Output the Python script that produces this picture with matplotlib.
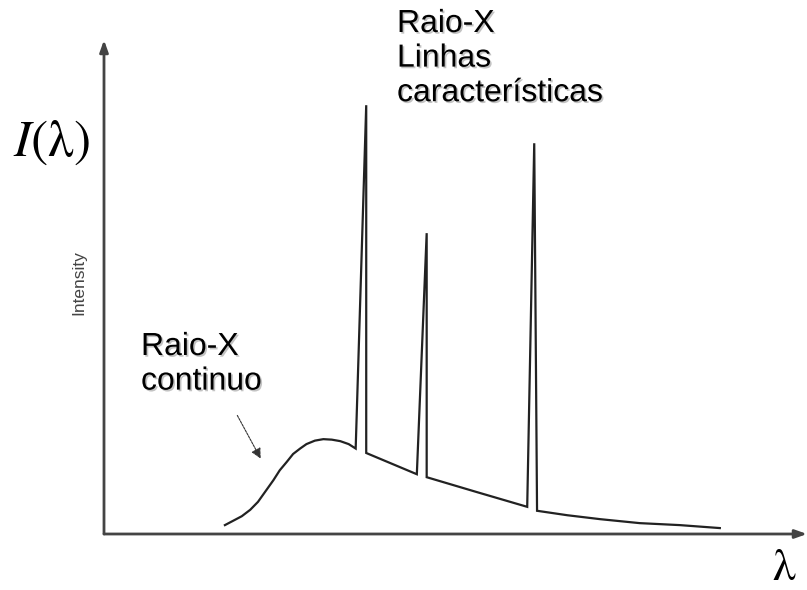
import matplotlib
matplotlib.use("Agg")
import matplotlib.pyplot as plt
import matplotlib.patheffects as pe

plt.rcParams['mathtext.fontset'] = 'stix'

# Spectrum trace (wavelength in arbitrary units, intensity in % of axis height)
wavelength = [17.2, 18.4, 19.6, 20.8, 21.9, 23.1, 24.1, 25.0, 26.0, 26.9, 27.9, 28.8, 30.0,
              31.2, 32.4, 33.6, 34.8, 35.8,
              37.3, 37.3, 44.5, 45.9, 45.9, 53.0, 60.2, 61.2, 61.6,
              65.9, 70.6, 76.2, 81.9, 87.6]
intensity = [1.8, 2.7, 3.6, 4.9, 6.5, 8.9, 10.9, 12.9, 14.6, 16.2, 17.3, 18.2, 18.9,
             19.2, 19.1, 18.8, 18.2, 17.3,
             86.8, 16.4, 12.1, 60.9, 11.5, 8.5, 5.5, 79.1, 4.7,
             3.8, 3.0, 2.2, 1.8, 1.2]

label_lines = "Raio-X\nLinhas\ncaracterísticas"
label_cont = "Raio-X\ncontinuo"
ylab = "Intensity"

W, H = 807, 590
fig = plt.figure(figsize=(W / 100, H / 100), dpi=100)
x0, y0 = 104, 534
ax = fig.add_axes([x0 / W, (H - y0) / H, (W - x0) / W, (y0 - 40) / H])
ax.set_xlim(0, 100)
ax.set_ylim(0, 100)
ax.axis('off')

ax.plot(wavelength, intensity, color='#222222', lw=1.6, solid_joinstyle='miter')

# axes with arrows
for xy in [(0, 1.0), (1.0, 0)]:
    ax.annotate('', xy=xy, xytext=(0, 0), xycoords='axes fraction',
                arrowprops=dict(arrowstyle='-|>,head_length=0.7,head_width=0.25',
                                color='#444444', lw=2, shrinkA=0, shrinkB=0))

shadow = [pe.withSimplePatchShadow(offset=(1.2, -1.2), shadow_rgbFace='#888888', alpha=0.5)]

fig.text(397 / W, 1 - 9 / H, label_lines, ha='left', va='top', fontsize=23,
         family='Liberation Sans', linespacing=1.2, path_effects=shadow)
fig.text(141 / W, 1 - 332 / H, label_cont, ha='left', va='top', fontsize=23,
         family='Liberation Sans', linespacing=1.2, path_effects=shadow)

# small arrow pointing at the continuum
fig.add_artist(matplotlib.patches.FancyArrowPatch(
    (236 / W, 1 - 413 / H), (262 / W, 1 - 461 / H), transform=fig.transFigure,
    arrowstyle='-|>,head_length=6,head_width=3', color='#333333', lw=0.8,
    linestyle=(0, (2, 1)), mutation_scale=1))

fig.text(13 / W, 1 - 142 / H, r'$I(\mathrm{\lambda})$', ha='left', va='center', fontsize=37)
fig.text(784 / W, 1 - 580 / H, 'λ', ha='center', va='baseline', fontsize=33,
         family='STIXGeneral')
fig.text(79 / W, 1 - 283 / H, ylab, ha='center', va='center', rotation=90,
         fontsize=12.5, family='Liberation Sans', color='#444444')

fig.savefig('out.png', dpi=100)
